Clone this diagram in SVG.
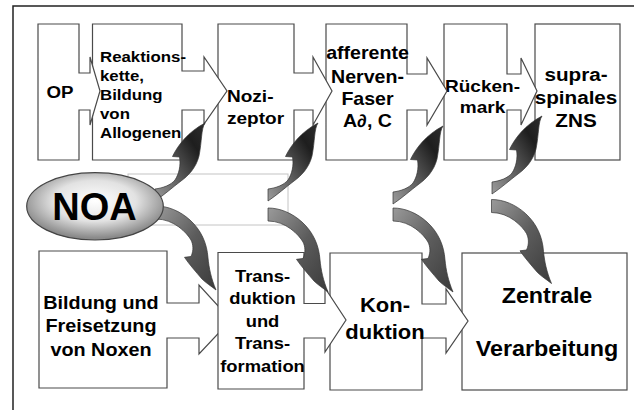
<svg xmlns="http://www.w3.org/2000/svg" width="634" height="410" viewBox="0 0 634 410">
<style>
.box{fill:#fff;stroke:#4a4a4a;stroke-width:1.2}
.t{font-family:"Liberation Sans",Arial,Helvetica,sans-serif;font-weight:bold;fill:#000}
.m{text-anchor:middle}
.frame{fill:none;stroke:#222;stroke-width:1.5}
.guide{fill:none;stroke:#c4c4c4;stroke-width:1}
</style>
<defs>
<linearGradient id="gu" x1="0" y1="1" x2="1" y2="0">
<stop offset="0" stop-color="#9c9c9c"/>
<stop offset="0.4" stop-color="#5a5a5a"/>
<stop offset="0.75" stop-color="#1e1e1e"/>
<stop offset="1" stop-color="#2e2e2e"/>
</linearGradient>
<linearGradient id="gd" x1="0" y1="0" x2="1" y2="1">
<stop offset="0" stop-color="#9a9a9a"/>
<stop offset="0.5" stop-color="#5c5c5c"/>
<stop offset="1" stop-color="#3a3a3a"/>
</linearGradient>
<radialGradient id="ge" cx="0.5" cy="0.42" r="0.55">
<stop offset="0" stop-color="#ffffff"/>
<stop offset="0.55" stop-color="#e2e2e2"/>
<stop offset="1" stop-color="#8a8a8a"/>
</radialGradient>
<path id="up" fill="url(#gu)" stroke="#333" stroke-width="0.7" d="M0,0 C8,-1 16,-4 20,-9 C24,-15 26,-24 24.5,-32 L17.5,-32.5 C23,-44 33,-57 50,-66 C46,-60 47,-48 44,-33 C41,-21 33,-13 26,-8 C18,-2 9,6 0,12 Z"/>
<path id="dn" fill="url(#gd)" stroke="#333" stroke-width="0.7" d="M0,0 C12,0 24,5 34,14 C45,24 51,37 52,52 C53,62 55,72 60,84 C55,80 50,77 46,73 C40,66 33,58 28.5,51.3 L35,50.5 C38,44 37,38 35,34 C31,27 18,13 0,13 Z"/>
</defs>

<path class="frame" d="M13,412 V6 H636"/>

<g id="node-zns">
<rect class="box" x="535" y="24" width="85" height="136"/>
<text class="t m" font-size="18.8" transform="translate(576,0) scale(1.1 1)"><tspan x="0" y="81">supra-</tspan><tspan x="0" y="104">spinales</tspan><tspan x="0" y="127">ZNS</tspan></text>
</g>
<g id="node-rueckenmark">
<polygon class="box" points="444,24 507,24 507,74 521,74 521,58 537,91 521,125 521,110 507,110 507,160 444,160"/>
<text class="t m" font-size="17.3" transform="translate(482.5,0) scale(1.1 1)"><tspan x="0" y="92.5">Rücken-</tspan><tspan x="0" y="113.5">mark</tspan></text>
</g>
<g id="node-faser">
<polygon class="box" points="326,24 407,24 407,74 427,74 427,58 447,91 427,125 427,110 407,110 407,160 326,160"/>
<text class="t m" font-size="17.8" transform="translate(367.5,0) scale(1.1 1)"><tspan x="0" y="59.5">afferente</tspan><tspan x="0" y="83">Nerven-</tspan><tspan x="0" y="105.5">Faser</tspan><tspan x="0" y="127">A∂, C</tspan></text>
</g>
<g id="node-nozizeptor">
<polygon class="box" points="218,24 294,24 294,73 313,73 313,57 332,91 313,125 313,110 294,110 294,160 218,160"/>
<text class="t" font-size="17.3" transform="translate(227,0) scale(1.1 1)"><tspan x="0" y="102">Nozi-</tspan><tspan x="0" y="124">zeptor</tspan></text>
</g>
<g id="node-reaktionskette">
<polygon class="box" points="92.5,24 182,24 182,71 204,71 204,57 227,91 204,124 204,110 182,110 182,160 92.5,160"/>
<text class="t" font-size="15.3" transform="translate(100,0) scale(1.1 1)"><tspan x="0" y="62.5">Reaktions-</tspan><tspan x="0" y="81.5">kette,</tspan><tspan x="0" y="100.5">Bildung</tspan><tspan x="0" y="119.5">von</tspan><tspan x="0" y="138.5">Allogenen</tspan></text>
</g>
<g id="node-op">
<polygon class="box" points="38,24 79,24 79,73 90,73 90,57 100,91 90,125 90,110 79,110 79,160 38,160"/>
<text class="t m" font-size="17" transform="translate(60,98) scale(1.1 1)" x="0" y="0">OP</text>
</g>

<g id="node-zentrale">
<rect class="box" x="462" y="253" width="165" height="137"/>
<text class="t m" font-size="21.2" transform="translate(547,0) scale(1.1 1)"><tspan x="0" y="303.5">Zentrale</tspan><tspan x="0" y="356">Verarbeitung</tspan></text>
</g>
<g id="node-konduktion">
<polygon class="box" points="330,253 422,253 422,304 446,304 446,289 468,321 446,353 446,338 422,338 422,390 330,390"/>
<text class="t m" font-size="20" transform="translate(385,0) scale(1.1 1)"><tspan x="0" y="312">Kon-</tspan><tspan x="0" y="339">duktion</tspan></text>
</g>
<g id="node-noxen">
<polygon class="box" points="39,251 167,251 167,303 199,303 199,285 231,320 199,354 199,338 167,338 167,388 39,388"/>
<text class="t m" font-size="18" transform="translate(101,0) scale(1.1 1)"><tspan x="0" y="309">Bildung und</tspan><tspan x="0" y="332">Freisetzung</tspan><tspan x="0" y="356.5">von Noxen</tspan></text>
</g>
<g id="node-transduktion">
<polygon class="box" points="218,252.5 304,252.5 304,303.5 325,303.5 325,288 346,320 325,352 325,338 304,338 304,389 218,389"/>
<text class="t m" font-size="16.7" transform="translate(262.5,0) scale(1.1 1)"><tspan x="0" y="282">Trans-</tspan><tspan x="0" y="304.5">duktion</tspan><tspan x="0" y="327">und</tspan><tspan x="0" y="349.5">Trans-</tspan><tspan x="0" y="372">formation</tspan></text>
</g>

<rect class="guide" x="128" y="174" width="160" height="51"/>

<g id="connectors">
<use href="#up" x="155" y="189"/>
<use href="#up" x="268" y="189"/>
<use href="#up" x="393" y="192"/>
<use href="#up" x="492" y="182"/>
<use href="#dn" x="156" y="206"/>
<use href="#dn" x="268" y="208"/>
<use href="#dn" x="393" y="208"/>
<use href="#dn" x="491.5" y="199.5"/>
</g>

<g id="node-noa">
<ellipse cx="95" cy="206.3" rx="68.3" ry="33.7" fill="url(#ge)" stroke="#444" stroke-width="1.2"/>
<text class="t m" font-size="38" x="94.5" y="219.5">NOA</text>
</g>
</svg>
